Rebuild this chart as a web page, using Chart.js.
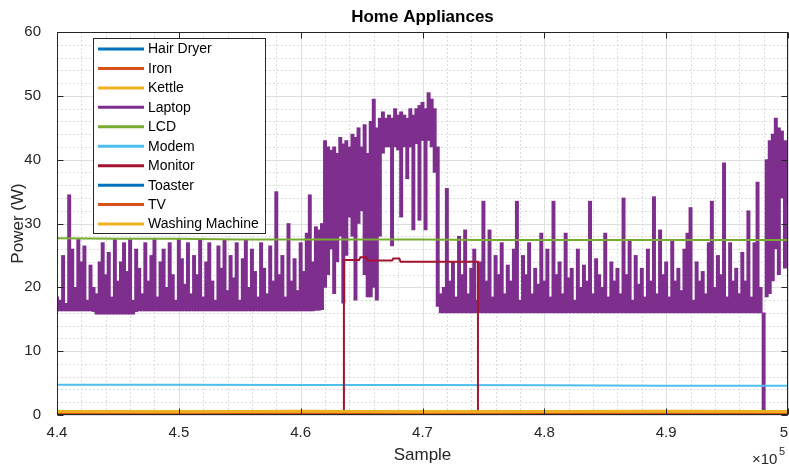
<!DOCTYPE html>
<html>
<head>
<meta charset="utf-8">
<script src="https://cdn.jsdelivr.net/npm/chart.js@4.4.1/dist/chart.umd.min.js"></script>
<style>
html, body { margin: 0; padding: 0; background: #fff; }
#wrap { width: 789px; height: 468px; }
</style>
</head>
<body>
<div id="wrap"><canvas id="powerChart"></canvas></div>
<script>
const FONT = "'Liberation Sans', Arial, Helvetica, sans-serif";

const applianceNames = ['Hair Dryer', 'Iron', 'Kettle', 'Laptop', 'LCD', 'Modem', 'Monitor', 'Toaster', 'TV', 'Washing Machine'];
const applianceColors = ['#0072BD', '#D95319', '#EDB120', '#7E2F8E', '#77AC30', '#4DBEEE', '#A2142F', '#0072BD', '#D95319', '#EDB120'];

const xTickValues = [440000, 450000, 460000, 470000, 480000, 490000, 500000];
const yTickValues = [0, 10, 20, 30, 40, 50, 60];

// laptop trace as min/max per block of 250 samples starting at sample 440000
const laptopStart = 440000;
const laptopStep = 250;
const laptopHigh = [
    18.5, 18, 25, 17.5, 34.5, 26, 20, 27.5, 24, 26.5,
    18, 23.5, 20, 19, 24, 27, 22, 25.5, 18.5, 27.5,
    21, 24, 27, 22.5, 27.5, 18, 26, 23, 19, 27,
    21, 25, 27.5, 18.5, 24, 26, 20, 27, 22, 18,
    27.5, 24.5, 20.5, 27, 19, 25, 22, 27.5, 18.5, 24,
    27, 21, 18, 26.5, 23, 27.5, 19.5, 25, 21.5, 27,
    18, 24.5, 27.5, 20, 26, 22.5, 18.5, 27, 23, 19,
    26.5, 21, 35, 22, 25, 18.5, 30, 21, 24.5, 19.5,
    27, 22.5, 28.5, 34.5, 24, 29.5, 29, 30, 43, 42,
    41.5, 42, 41, 43.5, 42.5, 43, 42, 44, 43.5, 45,
    42, 45.5, 41, 46, 49.5, 45, 46.5, 47.5, 46.5, 47,
    46.5, 48, 47, 47.5, 47, 46.5, 48, 47, 48, 48.5,
    49, 48, 50.5, 49.5, 48, 42, 19, 20, 35.5, 21,
    24, 18.5, 28, 22, 29, 19, 23, 26, 18, 24,
    33.5, 21, 29, 18.5, 25, 22, 27, 19, 23.5, 21,
    26, 33.5, 18, 25, 22, 27, 19, 23, 20.5, 28.5,
    21, 26, 18.5, 33.5, 22, 24, 19, 28.5, 21.5, 23,
    18, 26, 20, 23.5, 21, 33.5, 19, 24.5, 22, 20,
    28.5, 18.5, 24, 21, 23, 19, 34, 22, 27.5, 18,
    25, 20.5, 23, 18.5, 26, 21, 34.2, 19, 29, 22,
    24, 18.5, 27.5, 21, 23, 19.5, 26, 28.5, 32.5, 18,
    24, 21, 22.5, 19, 27, 33.5, 20, 25, 22, 39.5,
    18.5, 27, 21, 23, 19, 25.5, 21, 32, 18.5, 27,
    36.5, 20, 16, 40, 43, 44, 46.5, 45, 44.5, 43, 42
];
const laptopLow = [
    16.3, 16.3, 16.3, 16.3, 16.3, 16.3, 16.3, 16.3, 16.3, 16.3,
    16.3, 16.3, 16.2, 15.8, 15.8, 15.8, 15.8, 15.8, 15.8, 15.8,
    15.8, 15.8, 15.8, 15.8, 15.8, 15.8, 16.2, 16.3, 16.3, 16.3,
    16.3, 16.3, 16.3, 16.3, 16.3, 16.3, 16.3, 16.3, 16.3, 16.3,
    16.3, 16.3, 16.3, 16.3, 16.3, 16.3, 16.3, 16.3, 16.3, 16.3,
    16.3, 16.3, 16.3, 16.3, 16.3, 16.3, 16.3, 16.3, 16.3, 16.3,
    16.3, 16.3, 16.3, 16.3, 16.3, 16.3, 16.3, 16.3, 16.3, 16.3,
    16.3, 16.3, 16.3, 16.3, 16.3, 16.3, 16.3, 16.3, 16.3, 16.3,
    16.3, 16.3, 16.3, 16.3, 16.3, 16.4, 16.4, 16.5, 20, 22,
    26, 19, 24, 28, 17.5, 25, 31, 28, 18, 30,
    32, 22, 18.5, 18.5, 20, 18, 28, 41, 42, 42,
    26.5, 42, 41.5, 31, 42, 37, 42, 29, 42.5, 30.5,
    43, 29, 43, 42, 38, 17, 16, 16, 16, 16,
    16, 16, 16, 16, 16, 16, 16, 16, 16, 16,
    16, 16, 16, 16, 16, 16, 16, 16, 16, 16,
    16, 16, 16, 16, 16, 16, 16, 16, 16, 16,
    16, 16, 16, 16, 16, 16, 16, 16, 16, 16,
    16, 16, 16, 16, 16, 16, 16, 16, 16, 16,
    16, 16, 16, 16, 16, 16, 16, 16, 16, 16,
    16, 16, 16, 16, 16, 16, 16, 16, 16, 16,
    16, 16, 16, 16, 16, 16, 16, 16, 16, 16,
    16, 16, 16, 16, 16, 16, 16, 16, 16, 16,
    16, 16, 16, 16, 16, 16, 16, 16, 16, 16,
    16, 16, 0.3, 18.5, 19, 21, 26, 22, 34, 23, 33
];

const lcdSamples = [440000, 445000, 450000, 455000, 460000, 465000, 470000, 475000, 480000, 485000, 490000, 495000, 500000];
const lcdPower = [27.7, 27.6, 27.6, 27.5, 27.5, 27.5, 27.5, 27.4, 27.4, 27.4, 27.4, 27.4, 27.4];

const modemSamples = [440000, 450000, 460000, 470000, 480000, 490000, 500000];
const modemPower = [4.75, 4.75, 4.7, 4.7, 4.65, 4.6, 4.6];

const monitorSamples = [440000, 463550, 463550, 464800, 464900, 465400, 465500, 467500, 467600, 468100, 468200, 474550, 474550, 500000];
const monitorPower = [0, 0, 24.3, 24.3, 24.7, 24.7, 24.2, 24.2, 24.5, 24.5, 24.0, 24.0, 0, 0];

const baseSamples = [440000, 450000, 460000, 470000, 480000, 490000, 500000];
const hairDryerPower = [0, 0, 0, 0, 0, 0, 0];
const ironPower = [0.05, 0.05, 0.05, 0.05, 0.05, 0.05, 0.05];
const kettlePower = [0.5, 0.55, 0.5, 0.55, 0.5, 0.55, 0.5];
const toasterPower = [0, 0, 0, 0, 0, 0, 0];
const tvPower = [0.1, 0.1, 0.1, 0.1, 0.1, 0.1, 0.1];
const washingPower = [0.55, 0.5, 0.6, 0.5, 0.55, 0.6, 0.55];

function toPoints(xs, ys) {
    return ys.map((v, i) => ({ x: xs[i], y: v }));
}

const laptopBars = laptopHigh.map((v, i) => ({ x: laptopStart + i * laptopStep, y: [laptopLow[i], v] }));

const seriesData = [
    toPoints(baseSamples, hairDryerPower),
    toPoints(baseSamples, ironPower),
    toPoints(baseSamples, kettlePower),
    laptopBars,
    toPoints(lcdSamples, lcdPower),
    toPoints(modemSamples, modemPower),
    toPoints(monitorSamples, monitorPower),
    toPoints(baseSamples, toasterPower),
    toPoints(baseSamples, tvPower),
    toPoints(baseSamples, washingPower)
];

// grid, box, legend and labels drawn the matlab way
const matlabFrame = {
    id: 'matlabFrame',
    beforeDatasetsDraw(chart) {
        const { ctx, chartArea: a, scales: { x, y } } = chart;
        ctx.save();
        ctx.lineWidth = 1;
        ctx.strokeStyle = '#dcdcdc';
        ctx.setLineDash([2, 2]);
        for (let v = 2; v < 60; v += 2) {
            if (v % 10 === 0) continue;
            const py = Math.round(y.getPixelForValue(v)) + 0.5;
            ctx.beginPath(); ctx.moveTo(a.left, py); ctx.lineTo(a.right, py); ctx.stroke();
        }
        for (let s = 442000; s < 500000; s += 2000) {
            if (s % 10000 === 0) continue;
            const px = Math.round(x.getPixelForValue(s)) + 0.5;
            ctx.beginPath(); ctx.moveTo(px, a.top); ctx.lineTo(px, a.bottom); ctx.stroke();
        }
        ctx.setLineDash([]);
        ctx.strokeStyle = '#dfdfdf';
        yTickValues.forEach(v => {
            const py = Math.round(y.getPixelForValue(v)) + 0.5;
            ctx.beginPath(); ctx.moveTo(a.left, py); ctx.lineTo(a.right, py); ctx.stroke();
        });
        xTickValues.forEach(s => {
            const px = Math.round(x.getPixelForValue(s)) + 0.5;
            ctx.beginPath(); ctx.moveTo(px, a.top); ctx.lineTo(px, a.bottom); ctx.stroke();
        });
        ctx.restore();
    },
    afterDatasetsDraw(chart) {
        const { ctx, chartArea: a, scales: { x, y } } = chart;
        ctx.save();
        // axes box and inner ticks
        ctx.strokeStyle = '#262626';
        ctx.lineWidth = 1;
        const L = Math.round(a.left) + 0.5, R = Math.round(a.right) - 0.5;
        const T = Math.round(a.top) + 0.5, B = Math.round(a.bottom) - 0.5;
        ctx.strokeRect(L, T, R - L, B - T);
        yTickValues.forEach(v => {
            const py = Math.round(y.getPixelForValue(v)) + 0.5;
            ctx.beginPath();
            ctx.moveTo(L, py); ctx.lineTo(L + 6, py);
            ctx.moveTo(R, py); ctx.lineTo(R - 6, py);
            ctx.stroke();
        });
        xTickValues.forEach(s => {
            const px = Math.round(x.getPixelForValue(s)) + 0.5;
            ctx.beginPath();
            ctx.moveTo(px, B); ctx.lineTo(px, B - 6);
            ctx.moveTo(px, T); ctx.lineTo(px, T + 6);
            ctx.stroke();
        });

        // x tick labels, last one kept inside the canvas
        ctx.fillStyle = '#262626';
        ctx.font = '15px ' + FONT;
        ctx.textAlign = 'center';
        ctx.textBaseline = 'middle';
        xTickValues.forEach(s => {
            const label = String(s / 100000);
            const w = ctx.measureText(label).width;
            const px = Math.min(x.getPixelForValue(s), chart.width - w / 2 - 1);
            ctx.fillText(label, px, 433);
        });

        // legend
        const lx = 93.5, ly = 38.5, lw = 172, lh = 195;
        ctx.fillStyle = '#ffffff';
        ctx.fillRect(lx, ly, lw, lh);
        ctx.strokeStyle = '#262626';
        ctx.strokeRect(lx, ly, lw, lh);
        ctx.font = '14px ' + FONT;
        ctx.textAlign = 'left';
        chart.data.datasets.forEach((ds, i) => {
            const ry = 49 + i * 19.45;
            ctx.strokeStyle = ds.borderColor;
            ctx.lineWidth = 3;
            ctx.beginPath(); ctx.moveTo(98, ry); ctx.lineTo(144, ry); ctx.stroke();
            ctx.fillStyle = '#000000';
            ctx.fillText(ds.label, 148, ry + 0.5);
        });
        ctx.restore();
    },
    afterDraw(chart) {
        const { ctx, chartArea: a } = chart;
        ctx.save();
        const cx = (a.left + a.right) / 2;
        ctx.fillStyle = '#000000';
        ctx.textAlign = 'center';
        ctx.textBaseline = 'middle';
        ctx.font = 'bold 17px ' + FONT;
        ctx.fillText('Home Appliances', cx, 17);
        ctx.fillStyle = '#262626';
        ctx.font = '17px ' + FONT;
        ctx.fillText('Sample', cx, 455);
        ctx.save();
        ctx.translate(18, (a.top + a.bottom) / 2);
        ctx.rotate(-Math.PI / 2);
        ctx.fillText('Power (W)', 0, 0);
        ctx.restore();
        ctx.textAlign = 'left';
        ctx.font = '15px ' + FONT;
        ctx.fillText('\u00d710', 752, 460);
        ctx.font = '11px ' + FONT;
        ctx.fillText('5', 779, 452);
        ctx.restore();
    }
};

new Chart(document.getElementById('powerChart'), {
    type: 'line',
    data: {
        datasets: applianceNames.map((name, i) => {
            const ds = {
                label: name,
                data: seriesData[i],
                borderColor: applianceColors[i],
                backgroundColor: applianceColors[i],
                borderWidth: i === 6 ? 2 : (i < 3 || i > 6 ? 3 : 2),
                pointRadius: 0,
                tension: 0,
                fill: false,
                order: -i
            };
            if (name === 'Laptop') {
                ds.type = 'bar';
                ds.borderWidth = 0;
                ds.barThickness = 3.3;
                ds.borderSkipped = false;
            }
            return ds;
        })
    },
    options: {
        responsive: true,
        maintainAspectRatio: false,
        animation: false,
        events: [],
        layout: { autoPadding: false, padding: { top: 32, right: 1, left: 0, bottom: 0 } },
        plugins: {
            legend: { display: false },
            title: { display: false },
            tooltip: { enabled: false }
        },
        scales: {
            x: {
                type: 'linear',
                min: 440000,
                max: 500000,
                offset: false,
                afterFit: s => { s.height = 53; s.paddingLeft = 0; s.paddingRight = 0; },
                afterBuildTicks: s => { s.ticks = xTickValues.map(v => ({ value: v })); },
                grid: { display: false },
                border: { display: false },
                ticks: { display: false }
            },
            y: {
                type: 'linear',
                min: 0,
                max: 60,
                afterFit: s => { s.width = 57; s.paddingTop = 0; s.paddingBottom = 0; },
                afterBuildTicks: s => { s.ticks = yTickValues.map(v => ({ value: v })); },
                grid: { display: false },
                border: { display: false },
                ticks: {
                    color: '#262626',
                    font: { family: FONT, size: 15 },
                    padding: 8
                }
            }
        }
    },
    plugins: [matlabFrame]
});
</script>
</body>
</html>
